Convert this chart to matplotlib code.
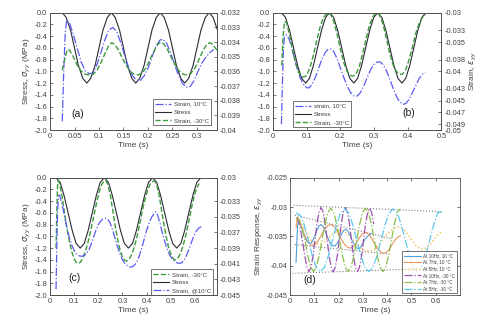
import numpy as np
import matplotlib
matplotlib.use("Agg")
import matplotlib.pyplot as plt
from matplotlib.ticker import FuncFormatter

plt.rcParams["font.family"] = ["Liberation Sans", "DejaVu Sans"]
plt.rcParams["axes.unicode_minus"] = False

# ---------------- data ----------------
# stress in MPa, strain values written in units of 1e-3

# (a) 10 Hz
t_a_stress = [0.025, 0.033, 0.042, 0.050, 0.058, 0.067, 0.075, 0.083, 0.092, 0.100, 0.108, 0.117,
              0.125, 0.133, 0.142, 0.150, 0.158, 0.167, 0.175, 0.183, 0.192, 0.200, 0.208, 0.217,
              0.225, 0.233, 0.242, 0.250, 0.258, 0.267, 0.275, 0.283, 0.292, 0.300, 0.308, 0.317,
              0.325, 0.333, 0.342, 0.345]
stress_a = [0, -0.08, -0.3, -0.6, -0.9, -1.12, -1.2, -1.12, -0.9, -0.6, -0.3, -0.08,
            0, -0.08, -0.3, -0.6, -0.9, -1.12, -1.2, -1.12, -0.9, -0.6, -0.3, -0.08,
            0, -0.08, -0.3, -0.6, -0.9, -1.12, -1.2, -1.12, -0.9, -0.6, -0.3, -0.08,
            0, -0.08, -0.3, -0.41]

t_a_10 = [0.025, 0.028, 0.031, 0.034, 0.040, 0.048, 0.056, 0.064, 0.072, 0.080,
          0.088, 0.096, 0.104, 0.112, 0.120, 0.128, 0.136, 0.144, 0.152, 0.160,
          0.168, 0.176, 0.184, 0.192, 0.200, 0.208, 0.216, 0.224, 0.230, 0.238,
          0.246, 0.254, 0.262, 0.270, 0.278, 0.286, 0.294, 0.302, 0.310, 0.318,
          0.326, 0.334]
strain_a_10 = [-39.4, -36.0, -33.4, -32.48, -32.72, -33.52, -34.48, -35.4, -35.96, -36.16,
               -36.12, -35.52, -34.72, -33.84, -33.2, -33.0, -33.28, -34.0, -34.88, -35.68,
               -36.28, -36.6, -36.64, -36.32, -35.8, -35.04, -34.32, -33.88, -33.8, -34.08,
               -34.72, -35.52, -36.24, -36.8, -37.08, -37.04, -36.64, -36.0, -35.44, -35.04,
               -34.72, -34.52]

t_a_m30 = [0.025, 0.030, 0.035, 0.040, 0.048, 0.056, 0.064, 0.072, 0.080, 0.088,
           0.096, 0.104, 0.112, 0.120, 0.126, 0.132, 0.140, 0.148, 0.156, 0.164,
           0.172, 0.180, 0.188, 0.196, 0.204, 0.212, 0.220, 0.226, 0.232, 0.240,
           0.248, 0.256, 0.264, 0.272, 0.280, 0.288, 0.296, 0.304, 0.312, 0.320,
           0.326, 0.332, 0.340, 0.345]
strain_a_m30 = [-35.92, -35.2, -34.52, -34.56, -35.04, -35.6, -36.0, -36.2, -36.24, -36.2,
                -35.92, -35.4, -34.8, -34.24, -34.04, -34.16, -34.56, -35.12, -35.6, -36.0,
                -36.2, -36.24, -36.12, -35.76, -35.2, -34.64, -34.16, -34.0, -34.12, -34.52,
                -35.08, -35.6, -36.0, -36.2, -36.24, -36.12, -35.76, -35.2, -34.6, -34.16,
                -34.04, -34.16, -34.52, -34.76]

# (b) 7 Hz
t_b_stress = [0.025, 0.037, 0.049, 0.061, 0.073, 0.085, 0.097, 0.108, 0.120, 0.132, 0.144, 0.156,
              0.168, 0.180, 0.192, 0.204, 0.216, 0.228, 0.240, 0.251, 0.263, 0.275, 0.287, 0.299,
              0.311, 0.323, 0.335, 0.347, 0.359, 0.371, 0.383, 0.394, 0.406, 0.418, 0.430, 0.442,
              0.454]
stress_b = [0, -0.08, -0.3, -0.6, -0.9, -1.12, -1.2, -1.12, -0.9, -0.6, -0.3, -0.08,
            0, -0.08, -0.3, -0.6, -0.9, -1.12, -1.2, -1.12, -0.9, -0.6, -0.3, -0.08,
            0, -0.08, -0.3, -0.6, -0.9, -1.12, -1.2, -1.12, -0.9, -0.6, -0.3, -0.08,
            0]

t_b_10 = [0.025, 0.028, 0.031, 0.034, 0.040, 0.048, 0.056, 0.064, 0.072, 0.080,
          0.090, 0.100, 0.108, 0.116, 0.126, 0.136, 0.146, 0.156, 0.164, 0.172,
          0.180, 0.190, 0.200, 0.210, 0.220, 0.230, 0.240, 0.250, 0.260, 0.270,
          0.280, 0.290, 0.300, 0.310, 0.318, 0.326, 0.336, 0.346, 0.356, 0.366,
          0.376, 0.386, 0.394, 0.404, 0.414, 0.424, 0.434, 0.444, 0.452]
strain_b_10 = [-49, -42, -36, -34, -33.8, -34.5, -36, -37.8, -39.5, -41,
               -42.2, -42.8, -42.8, -42.2, -41, -39.4, -37.8, -36.7, -36.2, -36.2,
               -36.6, -37.8, -39.4, -41, -42.5, -43.6, -44.2, -44.2, -43.6, -42.4,
               -41, -39.7, -38.8, -38.4, -38.4, -38.8, -39.8, -41.2, -42.8, -44.2,
               -45.2, -45.6, -45.5, -44.8, -43.6, -42.4, -41.2, -40.5, -40.2]

t_b_m30 = [0.026, 0.030, 0.034, 0.040, 0.050, 0.060, 0.070, 0.080, 0.090, 0.100,
           0.110, 0.120, 0.130, 0.140, 0.150, 0.160, 0.166, 0.172, 0.180, 0.190,
           0.200, 0.210, 0.220, 0.230, 0.238, 0.246, 0.256, 0.266, 0.276, 0.286,
           0.296, 0.304, 0.310, 0.316, 0.326, 0.336, 0.346, 0.356, 0.366, 0.376,
           0.384, 0.394, 0.404, 0.414, 0.424, 0.434, 0.444, 0.452]
strain_b_m30 = [-39, -34, -31.5, -31.7, -34, -37, -39.2, -40.6, -41, -40.7,
                -39.3, -37.2, -34.7, -32.4, -30.8, -30.1, -30.0, -30.4, -31.4, -33.6,
                -36.2, -38.5, -40, -40.7, -40.8, -40.5, -39.2, -37, -34.5, -32.2,
                -30.7, -30.1, -30, -30.4, -31.8, -34.2, -36.8, -38.8, -40, -40.5,
                -40.5, -39.7, -38, -35.8, -33.5, -31.8, -30.8, -30.4]

# (c) 5 Hz
t_c_stress = [0.025, 0.042, 0.058, 0.075, 0.092, 0.108, 0.125, 0.142, 0.158, 0.175, 0.192, 0.208,
              0.225, 0.242, 0.258, 0.275, 0.292, 0.308, 0.325, 0.342, 0.358, 0.375, 0.392, 0.408,
              0.425, 0.442, 0.458, 0.475, 0.492, 0.508, 0.525, 0.542, 0.558, 0.575, 0.592, 0.608,
              0.625]
stress_c = [0, -0.08, -0.3, -0.6, -0.9, -1.12, -1.2, -1.12, -0.9, -0.6, -0.3, -0.08,
            0, -0.08, -0.3, -0.6, -0.9, -1.12, -1.2, -1.12, -0.9, -0.6, -0.3, -0.08,
            0, -0.08, -0.3, -0.6, -0.9, -1.12, -1.2, -1.12, -0.9, -0.6, -0.3, -0.08,
            0]

t_c_m30 = [0.025, 0.028, 0.031, 0.034, 0.040, 0.050, 0.060, 0.070, 0.080, 0.090,
           0.100, 0.110, 0.118, 0.126, 0.136, 0.146, 0.156, 0.166, 0.176, 0.186,
           0.196, 0.206, 0.216, 0.226, 0.232, 0.240, 0.250, 0.260, 0.270, 0.280,
           0.290, 0.300, 0.310, 0.318, 0.326, 0.336, 0.346, 0.356, 0.366, 0.376,
           0.386, 0.396, 0.406, 0.416, 0.426, 0.434, 0.442, 0.452, 0.462, 0.472,
           0.482, 0.492, 0.502, 0.512, 0.520, 0.528, 0.538, 0.548, 0.558, 0.568,
           0.578, 0.588, 0.598, 0.608, 0.618]
strain_c_m30 = [-39.0, -34.5, -31.13, -30.38, -30.75, -32.4, -34.5, -36.45, -38.1, -39.45,
                -40.35, -40.88, -40.95, -40.8, -40.28, -39.45, -38.4, -37.13, -35.7, -34.2,
                -32.78, -31.58, -30.75, -30.38, -30.38, -30.9, -32.25, -34.2, -36.15, -37.88,
                -39.23, -40.13, -40.58, -40.65, -40.5, -39.98, -39.15, -38.1, -36.75, -35.25,
                -33.75, -32.48, -31.43, -30.75, -30.45, -30.45, -30.9, -32.25, -34.13, -36.0,
                -37.65, -39.0, -39.9, -40.43, -40.5, -40.35, -39.83, -39.0, -37.95, -36.6,
                -35.1, -33.6, -32.25, -31.28, -30.75]

t_c_10 = [0.025, 0.028, 0.031, 0.035, 0.040, 0.050, 0.060, 0.070, 0.080, 0.090,
          0.100, 0.110, 0.120, 0.130, 0.140, 0.150, 0.160, 0.170, 0.180, 0.190,
          0.200, 0.210, 0.220, 0.230, 0.240, 0.250, 0.260, 0.270, 0.280, 0.290,
          0.300, 0.310, 0.320, 0.330, 0.340, 0.350, 0.360, 0.370, 0.380, 0.390,
          0.400, 0.410, 0.420, 0.430, 0.438, 0.446, 0.456, 0.466, 0.476, 0.486,
          0.496, 0.506, 0.516, 0.526, 0.536, 0.546, 0.556, 0.566, 0.576, 0.586,
          0.596, 0.606, 0.616, 0.630]
strain_c_10 = [-44.25, -39.0, -34.5, -32.25, -32.25, -33.38, -34.88, -36.38, -37.65, -38.63,
               -39.3, -39.75, -39.98, -40.05, -39.98, -39.75, -39.3, -38.55, -37.65, -36.75,
               -36.0, -35.55, -35.25, -35.18, -35.33, -35.85, -36.75, -37.8, -38.85, -39.75,
               -40.5, -40.95, -41.25, -41.4, -41.4, -41.18, -40.73, -39.98, -39.0, -37.88,
               -36.75, -35.85, -35.1, -34.65, -34.35, -34.8, -35.85, -37.13, -38.25, -39.15,
               -39.9, -40.35, -40.65, -40.88, -40.95, -40.88, -40.5, -39.9, -39.15, -38.25,
               -37.43, -36.83, -36.45, -36.2]

# (d) strain response at all frequencies
t_d_7_10 = [0.025, 0.030, 0.036, 0.045, 0.055, 0.065, 0.075, 0.085, 0.095, 0.105,
            0.115, 0.125, 0.135, 0.145, 0.155, 0.165, 0.175, 0.185, 0.195, 0.205,
            0.215, 0.225, 0.235, 0.245, 0.255, 0.265, 0.275, 0.285, 0.295, 0.305,
            0.315, 0.325, 0.335, 0.345, 0.355, 0.365, 0.375, 0.385, 0.395, 0.405,
            0.415, 0.425, 0.435, 0.445, 0.455]
strain_d_7_10 = [-33.5, -31.8, -32.0, -33.0, -34.3, -35.3, -36.0, -36.4, -36.5, -36.3,
                 -35.8, -35.1, -34.3, -33.6, -33.2, -33.0, -33.1, -33.5, -34.2, -35.0,
                 -35.8, -36.4, -36.8, -37.0, -36.9, -36.6, -36.0, -35.3, -34.7, -34.4,
                 -34.4, -34.7, -35.3, -36.0, -36.7, -37.3, -37.7, -37.9, -37.8, -37.4,
                 -36.8, -36.1, -35.5, -35.1, -34.9]

t_d_5_10 = [0.025, 0.030, 0.040, 0.055, 0.070, 0.085, 0.100, 0.115, 0.130, 0.145,
            0.160, 0.175, 0.190, 0.205, 0.220, 0.235, 0.250, 0.265, 0.280, 0.295,
            0.310, 0.325, 0.340, 0.355, 0.370, 0.385, 0.400, 0.415, 0.430, 0.445,
            0.460, 0.475, 0.490, 0.505, 0.520, 0.535, 0.550, 0.565, 0.580, 0.595,
            0.610, 0.625]
strain_d_5_10 = [-33.0, -31.8, -32.3, -33.5, -34.7, -35.6, -36.1, -36.3, -36.2, -35.8,
                 -35.2, -34.6, -34.2, -34.0, -34.1, -34.5, -35.2, -35.9, -36.6, -37.1,
                 -37.4, -37.5, -37.4, -37.0, -36.3, -35.4, -34.6, -34.0, -33.6, -33.4,
                 -33.6, -34.1, -34.9, -35.8, -36.6, -37.1, -37.2, -36.9, -36.2, -35.4,
                 -34.7, -34.2]

t_d_10_m30 = [0.028, 0.036, 0.045, 0.053, 0.061, 0.070, 0.078, 0.086, 0.095, 0.103,
              0.111, 0.120, 0.128, 0.136, 0.145, 0.153, 0.161, 0.170, 0.178, 0.186,
              0.195, 0.203, 0.211, 0.220, 0.228, 0.236, 0.245, 0.253, 0.261, 0.270,
              0.278, 0.286, 0.295, 0.303, 0.311, 0.320, 0.328, 0.336, 0.345]
strain_d_10_m30 = [-31.8, -32.6, -34.2, -36.2, -38.4, -40.3, -41.05, -40.3, -38.3, -35.55,
                   -32.8, -30.8, -30.05, -30.8, -32.8, -35.55, -38.3, -40.3, -41.05, -40.3,
                   -38.3, -35.55, -32.8, -30.8, -30.1, -30.85, -32.85, -35.6, -38.35, -40.35,
                   -41.0, -40.3, -38.3, -35.6, -32.9, -30.9, -30.2, -30.9, -32.9]

strain_d_7_m30 = [-31.8, -32.2, -33.4, -35.6, -38.3, -40.28, -41.0, -40.28, -38.3, -35.6,
                  -32.9, -30.92, -30.2, -30.92, -32.9, -35.6, -38.3, -40.28, -41.0, -40.28,
                  -38.3, -35.6, -32.9, -30.92, -30.2, -30.92, -32.9, -35.6, -38.3, -40.28,
                  -41.0, -40.28, -38.3, -35.6, -32.9, -30.92, -30.3]

strain_d_5_m30 = [-31.0, -31.4, -33.0, -35.65, -38.33, -40.28, -41.0, -40.28, -38.33, -35.65,
                  -32.98, -31.02, -30.3, -31.02, -32.98, -35.65, -38.33, -40.28, -41.0, -40.28,
                  -38.33, -35.65, -32.98, -31.02, -30.3, -31.02, -32.98, -35.65, -38.33, -40.28,
                  -41.0, -40.28, -38.33, -35.65, -32.98, -31.02, -30.8]

# dotted trend lines in (d): (t_start, t_end), (strain_start, strain_end)
trend_t = [(0.015, 0.63), (0.02, 0.42), (0.02, 0.40), (0.01, 0.62)]
trend_s = [(-29.7, -30.8), (-31.4, -35.4), (-36.4, -38.0), (-41.3, -40.4)]

legend_d = ["At 10Hz, 10 \u00b0C", "At 7Hz, 10 \u00b0C", "At 5Hz, 10 \u00b0C",
            "At 10Hz, -30 \u00b0C", "At 7Hz, -30 \u00b0C", "At 5Hz, -30 \u00b0C"]


def milli(v):
    return np.array(v) * 1e-3


# ---------------- styling ----------------
TXT = "#404040"
BLUE = "#5a5af2"
GREEN = "#3b9a3b"
BLACK = "#2a2a35"
gfmt = FuncFormatter(lambda v, p: f"{v:g}")
ffmt = FuncFormatter(lambda v, p: f"{v:.1f}" if abs(v) > 1e-9 else "0.0")


def style(ax, top=False):
    ax.tick_params(direction="in", length=2.5, width=0.5, labelsize=5.3,
                   colors=TXT, pad=2, top=top, right=top)
    for s in ax.spines.values():
        s.set_linewidth(0.6)
        s.set_color("#505050")


def stress_panel(rect, xmax, xticks):
    ax = fig.add_axes(rect)
    style(ax)
    ax.set_xlim(0, xmax)
    ax.set_ylim(-2, 0)
    ax.set_yticks(np.linspace(-2, 0, 11))
    ax.yaxis.set_major_formatter(ffmt)
    ax.set_xticks(xticks)
    ax.xaxis.set_major_formatter(gfmt)
    ax.set_xlabel("Time (s)", fontsize=6, color=TXT, labelpad=1.5)
    ax2 = ax.twinx()
    style(ax2)
    ax2.tick_params(right=True, left=False)
    ax2.yaxis.set_major_formatter(gfmt)
    return ax, ax2


def add_legend(ax, handles, labels, loc, anchor):
    leg = ax.legend(handles, labels, loc=loc, bbox_to_anchor=anchor, fontsize=4.4,
                    frameon=True, fancybox=False, borderaxespad=0, handlelength=2.6,
                    handletextpad=0.5, labelspacing=0.45, borderpad=0.35)
    leg.get_frame().set_edgecolor("#333333")
    leg.get_frame().set_linewidth(0.6)
    for t in leg.get_texts():
        t.set_color(TXT)
    return leg


fig = plt.figure(figsize=(4.87, 3.30), dpi=100)
sig_label = r"Stress, $\sigma_{yy}$ (MPa)"

# (a)
ax, ax2 = stress_panel([0.1027, 0.606, 0.342, 0.3555], 0.34,
                       [0, 0.05, 0.1, 0.15, 0.2, 0.25, 0.3])
ax.set_ylabel(sig_label, fontsize=6, color=TXT, labelpad=1)
ax2.set_ylim(-0.04, -0.032)
ax2.set_yticks(np.linspace(-0.04, -0.032, 9))
h1, = ax2.plot(t_a_10, milli(strain_a_10), ls="-.", color=BLUE, lw=0.9)
h2, = ax.plot(t_a_stress, stress_a, color=BLACK, lw=0.8)
h3, = ax2.plot(t_a_m30, milli(strain_a_m30), ls="--", color=GREEN, lw=1.0)
add_legend(ax2, [h1, h2, h3], ["Strain, 10\u00b0C", "Stress", "Strain, -30\u00b0C"],
           "lower right", (0.967, 0.043))
ax.text(0.13, 0.11, "(a)", transform=ax.transAxes, fontsize=7.5, color="#202020")

# (b)
ax, ax2 = stress_panel([0.5606, 0.606, 0.3458, 0.3555], 0.5,
                       [0, 0.1, 0.2, 0.3, 0.4, 0.5])
ax2.set_ylim(-0.05, -0.03)
ax2.set_yticks([-0.03, -0.033, -0.035, -0.038, -0.04, -0.043, -0.045, -0.047, -0.049, -0.05])
ax2.set_ylabel(r"Strain, $\epsilon_{yy}$", fontsize=6, color=TXT, labelpad=2)
h1, = ax2.plot(t_b_10, milli(strain_b_10), ls="-.", color=BLUE, lw=0.9)
h2, = ax.plot(t_b_stress, stress_b, color=BLACK, lw=0.8)
h3, = ax2.plot(t_b_m30, milli(strain_b_m30), ls="--", color=GREEN, lw=1.0)
add_legend(ax2, [h1, h2, h3], ["strain, 10\u00b0C", "Stress", "Strain, -30\u00b0C"],
           "lower left", (0.117, 0.026))
ax.text(0.77, 0.12, "(b)", transform=ax.transAxes, fontsize=7.5, color="#202020")

# (c)
ax, ax2 = stress_panel([0.1027, 0.106, 0.342, 0.3555], 0.69,
                       [0, 0.1, 0.2, 0.3, 0.4, 0.5, 0.6])
ax.set_ylabel(sig_label, fontsize=6, color=TXT, labelpad=1)
ax2.set_ylim(-0.045, -0.03)
ax2.set_yticks([-0.03, -0.033, -0.035, -0.037, -0.039, -0.041, -0.043, -0.045])
h1, = ax2.plot(t_c_m30, milli(strain_c_m30), ls="--", color=GREEN, lw=1.0)
h2, = ax.plot(t_c_stress, stress_c, color=BLACK, lw=0.8)
h3, = ax2.plot(t_c_10, milli(strain_c_10), ls="-.", color=BLUE, lw=0.9)
add_legend(ax2, [h1, h2, h3], ["Strain, -30\u00b0C", "Stress", "Strain, @10\u00b0C"],
           "lower right", (0.979, 0.0))
ax.text(0.11, 0.12, "(c)", transform=ax.transAxes, fontsize=7.5, color="#202020")

# (d)
ax = fig.add_axes([0.5955, 0.106, 0.349, 0.3555])
style(ax, top=True)
ax.set_xlim(0, 0.7)
ax.set_ylim(-0.045, -0.025)
ax.set_xticks([0, 0.1, 0.2, 0.3, 0.4, 0.5, 0.6])
ax.set_yticks([-0.045, -0.04, -0.035, -0.03, -0.025])
ax.xaxis.set_major_formatter(gfmt)
ax.yaxis.set_major_formatter(gfmt)
ax.set_xlabel("Time (s)", fontsize=6, color=TXT, labelpad=1.5)
ax.set_ylabel(r"Strain Response, $\epsilon_{yy}$", fontsize=6, color=TXT, labelpad=1)

for tt, ss in zip(trend_t, trend_s):
    ax.plot(tt, milli(ss), ls=":", color="#808080", lw=0.8)

hd = []
hd += ax.plot(t_a_10, milli(strain_a_10), color="#4f9fdc", lw=0.8)
hd += ax.plot(t_d_7_10, milli(strain_d_7_10), color="#e59462", lw=0.8)
hd += ax.plot(t_d_5_10, milli(strain_d_5_10), ls=":", color="#f0bd4c", lw=1.0)
hd += ax.plot(t_d_10_m30, milli(strain_d_10_m30), ls="-.", color="#9d52ae", lw=0.9)
hd += ax.plot(t_b_stress, milli(strain_d_7_m30), ls="-.", color="#8cbf4a", lw=0.9)
hd += ax.plot(t_c_stress, milli(strain_d_5_m30), ls="-.", color="#5ec8ef", lw=0.9)
leg = ax.legend(hd, legend_d, loc="lower right", bbox_to_anchor=(0.982, 0.017),
                fontsize=3.3, frameon=True, fancybox=False, borderaxespad=0,
                handlelength=3.8, handletextpad=0.4, labelspacing=0.35, borderpad=0.4)
leg.get_frame().set_edgecolor("#333333")
leg.get_frame().set_linewidth(0.6)
for t in leg.get_texts():
    t.set_color(TXT)
ax.text(0.08, 0.1, "(d)", transform=ax.transAxes, fontsize=7.5, color="#202020")

fig.savefig("out.png", dpi=100)
